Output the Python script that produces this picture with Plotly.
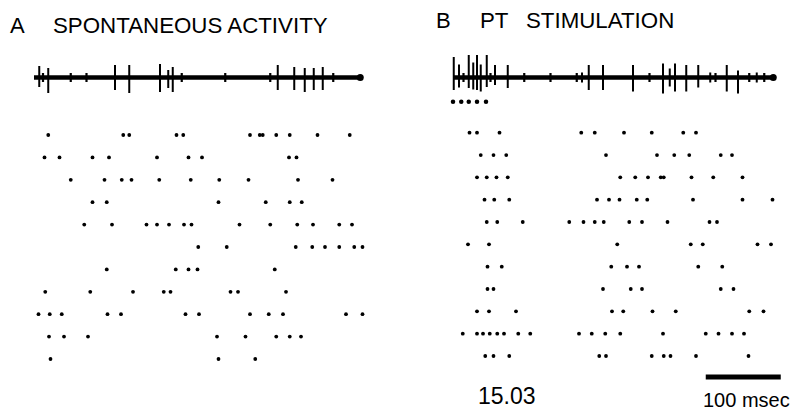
import plotly.graph_objects as go

# ---------------- DATA (times in msec) ----------------
# Panel A: spontaneous activity raster, one list per sweep (top to bottom)
rasterA = [
    [19, 119, 127, 190, 199, 288, 301, 305, 323, 341, 378, 421],
    [14, 34, 78, 100, 164, 206, 224, 340, 350],
    [49, 94, 117, 130, 167, 209, 247, 286, 352, 398],
    [78, 97, 246, 309, 341, 357],
    [67, 104, 150, 164, 180, 200, 210, 274, 315, 351, 372, 407, 424],
    [219, 257, 349, 371, 388, 407, 427, 438],
    [97, 189, 206, 218, 321],
    [15, 75, 132, 173, 182, 262, 272, 336],
    [6, 21, 37, 98, 116, 202, 220, 288, 313, 332, 416, 438],
    [20, 40, 72, 244, 282, 323, 341, 356],
    [22, 246, 295],
]
# Panel B: PT stimulation raster
rasterB = [
    [22, 32, 62, 171, 189, 228, 265, 307, 324],
    [37, 54, 71, 204, 272, 295, 315, 357, 372],
    [32, 45, 58, 73, 223, 243, 260, 277, 281, 318, 347, 386],
    [42, 55, 75, 192, 208, 222, 245, 259, 320, 386, 426],
    [45, 59, 93, 155, 174, 189, 201, 235, 252, 286, 342, 352],
    [20, 48, 219, 317, 333, 406, 424],
    [46, 65, 211, 232, 248, 327, 359],
    [46, 54, 200, 237, 252, 357, 374],
    [32, 48, 84, 212, 227, 266, 297, 395, 414],
    [13, 32, 40, 49, 59, 68, 87, 103, 168, 185, 203, 223, 280, 337, 354, 372, 388],
    [43, 54, 75, 195, 204, 265, 281, 290, 324, 394],
]

# Example sweeps (unit traces): spike time, upward and downward deflection (arb. units)
traceA_len = 435
spikeA_t    = [7, 19, 108, 127, 168, 179, 185, 325, 347, 361, 373, 385]
spikeA_up   = [1.15, 0.95, 1.25, 1.25, 1.35, 0.75, 1.05, 1.25, 1.05, 0.95, 0.95, 1.05]
spikeA_down = [-0.95, -1.55, -1.25, -1.55, -1.45, -1.05, -1.45, -1.25, -1.25, -1.45, -1.25, -1.25]
bumpA_t = [12, 49, 70, 197, 255, 315, 399]

traceB_len = 427
spikeB_t    = [1, 8, 21, 27, 32, 37, 45, 56, 73, 172, 181, 200, 240, 280, 289, 296, 311, 327, 343, 365, 380, 405]
spikeB_up   = [2.05, 1.3, 2.25, 1.5, 2.25, 1.3, 2.25, 1.25, 1.25, 0.5, 1.25, 1.25, 1.25, 1.4, 0.9, 1.4, 1.25, 1.25, 0.5, 1.25, 0.7, 0.5]
spikeB_down = [-1.25, -1.0, -1.05, -1.2, -1.25, -1.4, -0.95, -0.75, -1.05, -0.5, -1.25, -1.25, -1.4, -1.6, -0.9, -1.4, -1.4, -1.0, -0.5, -1.4, -1.6, -0.5]
bumpB_t = [14, 50, 95, 130, 165, 262, 350, 395, 415]

stim_t = [0, 11, 21, 32, 44]          # PT stimulus pulses
scale_bar = [337, 437]                 # 100 msec calibration

# ---------------- FIGURE ----------------
fig = go.Figure()

def raster(rows, xa, ya):
    xs, ys = [], []
    for i, r in enumerate(rows):
        for t in r:
            xs.append(t)
            ys.append(i + 1)
    fig.add_trace(go.Scatter(x=xs, y=ys, mode="markers", xaxis=xa, yaxis=ya,
                             marker=dict(size=3.8, color="black", symbol="circle"),
                             hoverinfo="skip", showlegend=False))

def unit_trace(length, st, up, down, bumps, xa):
    fig.add_trace(go.Scatter(x=[0, length], y=[0, 0], mode="lines", xaxis=xa, yaxis="y3",
                             line=dict(color="black", width=4.5), hoverinfo="skip", showlegend=False))
    xs, ys = [], []
    for t, u, d in zip(st, up, down):
        xs += [t, t, None]
        ys += [u, d, None]
    fig.add_trace(go.Scatter(x=xs, y=ys, mode="lines", xaxis=xa, yaxis="y3",
                             line=dict(color="black", width=2), hoverinfo="skip", showlegend=False))
    bx, by = [], []
    for t in bumps:
        bx += [t, t, None]
        by += [0.45, -0.45, None]
    fig.add_trace(go.Scatter(x=bx, y=by, mode="lines", xaxis=xa, yaxis="y3",
                             line=dict(color="black", width=2.2), hoverinfo="skip", showlegend=False))
    fig.add_trace(go.Scatter(x=[length], y=[0], mode="markers", xaxis=xa, yaxis="y3",
                             marker=dict(size=7, color="black"), hoverinfo="skip", showlegend=False))

raster(rasterA, "x", "y")
raster(rasterB, "x2", "y2")
unit_trace(traceA_len, spikeA_t, spikeA_up, spikeA_down, bumpA_t, "x")
unit_trace(traceB_len, spikeB_t, spikeB_up, spikeB_down, bumpB_t, "x2")

fig.add_trace(go.Scatter(x=stim_t, y=[-2.42] * len(stim_t), mode="markers", xaxis="x2", yaxis="y3",
                         marker=dict(size=4.5, color="black"), hoverinfo="skip", showlegend=False))

fig.add_trace(go.Scatter(x=scale_bar, y=[11.94, 11.94], mode="lines", xaxis="x2", yaxis="y2",
                         line=dict(color="black", width=5), hoverinfo="skip", showlegend=False))

hidden = dict(visible=False, showgrid=False, zeroline=False, fixedrange=True)
W, H = 791, 412
fig.update_layout(
    width=W, height=H, margin=dict(l=0, r=0, t=0, b=0),
    paper_bgcolor="white", plot_bgcolor="white",
    font=dict(family="Liberation Sans, Arial, sans-serif", color="black"),
    xaxis=dict(domain=[0, 0.5], range=[-34 / 0.75, (395.5 - 34) / 0.75], **hidden),
    xaxis2=dict(domain=[0.5, 1], range=[(395.5 - 453) / 0.75, (791 - 453) / 0.75], **hidden),
    yaxis=dict(domain=[0, 1], range=[13.366, -5.027], anchor="x", **hidden),
    yaxis2=dict(domain=[0, 1], range=[13.508, -4.943], anchor="x2", **hidden),
    yaxis3=dict(domain=[(H - 115) / H, (H - 40) / H], range=[-3.75, 3.75], anchor="x", **hidden),
)

def txt(s, x, y, size, anchor="left"):
    fig.add_annotation(text=s, x=x / W, y=1 - y / H, xref="paper", yref="paper",
                       xanchor=anchor, yanchor="middle", showarrow=False,
                       font=dict(size=size, color="black"))

txt("A", 8, 26, 22)
txt("SPONTANEOUS ACTIVITY", 51, 26, 22.3)
txt("B", 434, 21, 22)
txt("PT", 478, 21, 22.3)
txt("STIMULATION", 524, 21, 22.3)
txt("15.03", 507, 396, 23, "center")
txt("100 msec", 746, 400, 20, "center")

fig.write_html("out.html")
